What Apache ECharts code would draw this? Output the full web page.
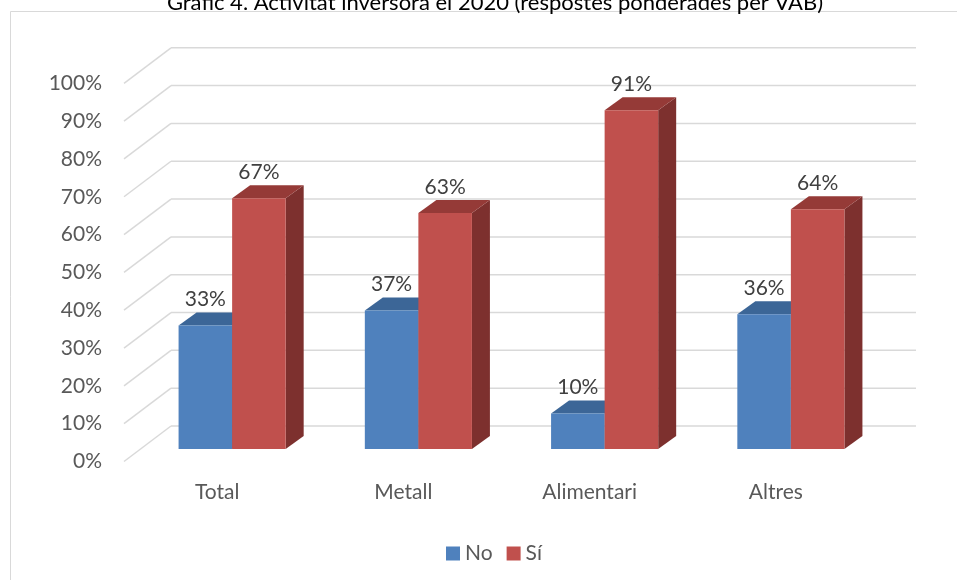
<!DOCTYPE html>
<html>
<head>
<meta charset="utf-8">
<script src="https://cdn.jsdelivr.net/npm/echarts@6/dist/echarts.min.js"></script>
<style>html,body{margin:0;padding:0;background:#fff;}#c{width:957px;height:580px;}</style>
</head>
<body>
<div id="c"></div>
<script>
const titleText = 'Gràfic 4. Activitat inversora el 2020 (respostes ponderades per VAB)';
const categories = ['Total', 'Metall', 'Alimentari', 'Altres'];
const seriesNames = ['No', 'Sí'];
const noValues = [33, 37, 9.5, 36];
const siValues = [67, 63, 90.5, 64];
const yTicks = [0, 10, 20, 30, 40, 50, 60, 70, 80, 90, 100];

const FONT = 'Lato';
const WALL_DX = 47, WALL_DY = -35.5;
const BAR_OFF_X = 15, BAR_OFF_Y = -12.5;
const BAR_DX = 18, BAR_DY = -13;
const BAR_FRAC = 0.2875;
const PALETTE = [
  {front: '#4F81BD', top: '#3C6697', side: '#35598A'},
  {front: '#C0504D', top: '#953A37', side: '#7D302E'}
];

function barRenderer(s) {
  return function (params, api) {
    const idx = api.value(0), v = api.value(1);
    const c0 = api.coord([idx, 0]);
    const c1 = api.coord([idx, v]);
    const band = api.size([1, 0])[0];
    const w = band * BAR_FRAC;
    const baseY = c0[1] + BAR_OFF_Y;
    const topY = baseY - (c0[1] - c1[1]) * 0.99;
    const midX = c0[0] + BAR_OFF_X;
    const x0 = s === 0 ? midX - w : midX;
    const x1 = x0 + w;
    const col = PALETTE[s];
    return {
      type: 'group',
      children: [
        {type: 'polygon', shape: {points: [[x1, topY], [x1 + BAR_DX, topY + BAR_DY], [x1 + BAR_DX, baseY + BAR_DY], [x1, baseY]]}, style: {fill: col.side}},
        {type: 'polygon', shape: {points: [[x0, topY], [x1, topY], [x1 + BAR_DX, topY + BAR_DY], [x0 + BAR_DX, topY + BAR_DY]]}, style: {fill: col.top}},
        {type: 'rect', shape: {x: x0, y: topY, width: w, height: baseY - topY}, style: {fill: col.front}},
        {type: 'text', style: {text: Math.round(v) + '%', x: (x0 + x1) / 2, y: topY - 26, align: 'center', verticalAlign: 'middle', font: '21px ' + FONT, fill: '#404040'}}
      ]
    };
  };
}

function gridRenderer(params, api) {
  const cs = params.coordSys;
  const v = api.value(1);
  const y = api.coord([0, v])[1];
  const x0 = cs.x;
  const style = {stroke: '#D9D9D9', lineWidth: 1.5};
  return {
    type: 'group',
    children: [
      {type: 'line', shape: {x1: x0, y1: y, x2: x0 + WALL_DX, y2: y + WALL_DY}, style: style},
      {type: 'line', shape: {x1: x0 + WALL_DX, y1: y + WALL_DY, x2: x0 + cs.width + WALL_DX, y2: y + WALL_DY}, style: style}
    ]
  };
}

const chart = echarts.init(document.getElementById('c'));
chart.setOption({
  animation: false,
  backgroundColor: '#fff',
  title: {
    text: titleText, left: 490, top: -13, textAlign: 'center',
    textStyle: {fontFamily: FONT, fontSize: 22, fontWeight: 'normal', color: '#000'}
  },
  graphic: [{
    type: 'rect', shape: {x: 10.5, y: 11.5, width: 1000, height: 1000},
    style: {fill: 'none', stroke: '#D9D9D9', lineWidth: 1}, silent: true, z: -10
  }],
  legend: {
    data: seriesNames, left: 441, top: 538, itemWidth: 14, itemHeight: 14, itemGap: 14,
    icon: 'rect',
    textStyle: {fontFamily: FONT, fontSize: 21, color: '#595959'}
  },
  grid: {left: 124, right: 88, top: 83.3, bottom: 118.5},
  xAxis: {
    type: 'category', data: categories,
    axisLine: {show: false}, axisTick: {show: false},
    axisLabel: {fontFamily: FONT, fontSize: 21, color: '#595959', margin: 20}
  },
  yAxis: {
    type: 'value', min: 0, max: 100, interval: 10,
    axisLine: {show: false}, axisTick: {show: false}, splitLine: {show: false},
    axisLabel: {formatter: '{value}%', fontFamily: FONT, fontSize: 21, color: '#595959', margin: 22}
  },
  series: [
    {type: 'custom', name: 'grid', z: 1, silent: true, renderItem: gridRenderer,
      data: yTicks.map(t => [0, t]), encode: {x: 0, y: 1}},
    {type: 'custom', name: seriesNames[0], z: 2, renderItem: barRenderer(0),
      itemStyle: {color: PALETTE[0].front},
      data: noValues.map((v, i) => [i, v]), encode: {x: 0, y: 1}},
    {type: 'custom', name: seriesNames[1], z: 3, renderItem: barRenderer(1),
      itemStyle: {color: PALETTE[1].front},
      data: siValues.map((v, i) => [i, v]), encode: {x: 0, y: 1}}
  ]
});
</script>
</body>
</html>
